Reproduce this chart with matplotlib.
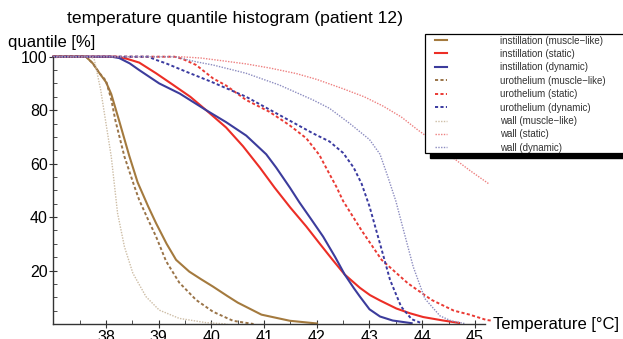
import matplotlib
matplotlib.use("Agg")
import matplotlib.pyplot as plt
from matplotlib.ticker import MultipleLocator
from matplotlib.patches import Rectangle

plt.rcParams['font.family'] = ['Liberation Sans', 'DejaVu Sans']

# ---- data (temperature in °C, quantile in %) ----
inst_muscle_T = [37.0, 37.62, 37.75, 37.87, 38.0, 38.1, 38.25, 38.44, 38.6, 38.8, 38.95, 39.15, 39.33, 39.58, 39.8, 40.03, 40.3, 40.5, 40.95, 41.49, 42.0]
inst_muscle_V = [100, 100, 97.5, 94, 90.5, 86, 76, 63, 53, 44, 37.7, 30, 24, 19.6, 16.8, 14, 10.5, 8, 3.5, 1.2, 0.2]

inst_static_T = [37.0, 38.2, 38.4, 38.63, 38.95, 39.27, 39.6, 39.9, 40.28, 40.6, 40.92, 41.2, 41.5, 41.8, 42.05, 42.3, 42.53, 42.82, 43.01, 43.2, 43.51, 43.77, 44.02, 44.4, 44.7]
inst_static_V = [100, 100, 99.2, 97.8, 93.8, 89.5, 85, 80, 73.5, 66.5, 58.5, 51, 43.5, 36.5, 30.2, 24, 18.5, 13.5, 10.8, 8.8, 5.8, 4, 2.6, 1.3, 0.4]

inst_dyn_T = [37.0, 38.1, 38.25, 38.45, 38.63, 39.01, 39.4, 39.9, 40.28, 40.66, 41.04, 41.23, 41.49, 41.67, 41.9, 42.12, 42.35, 42.53, 42.7, 42.82, 43.0, 43.2, 43.44, 43.8]
inst_dyn_V = [100, 100, 99.5, 97.5, 95, 90, 86.2, 80, 75.5, 70.5, 63.5, 58.5, 51, 45.5, 39, 32.7, 25, 18.5, 13.5, 10.2, 5.5, 2.8, 1.3, 0.3]

uro_muscle_T = [37.0, 37.62, 37.75, 37.87, 38.0, 38.1, 38.18, 38.35, 38.54, 38.63, 38.8, 38.95, 39.14, 39.39, 39.71, 40.03, 40.41, 40.8]
uro_muscle_V = [100, 100, 97.5, 94, 91, 84, 76, 62.6, 51.4, 46.4, 39, 32.7, 23.5, 15.5, 9, 4.6, 1.2, 0]

uro_static_T = [37.0, 39.3, 39.45, 39.71, 40.03, 40.28, 40.66, 41.1, 41.48, 41.8, 42.05, 42.2, 42.37, 42.5, 42.85, 43.23, 43.73, 44.18, 44.6, 44.9, 45.22, 45.3]
uro_static_V = [100, 100, 99.2, 96.9, 91.9, 89.2, 83.8, 79.4, 74.4, 69.5, 63.2, 57.6, 51.4, 46, 35, 24, 15.2, 9, 5, 3.5, 1.5, 1.3]

uro_dyn_T = [37.0, 38.8, 38.95, 39.14, 39.52, 40.0, 40.66, 41.29, 41.93, 42.24, 42.5, 42.7, 42.85, 43.0, 43.2, 43.39, 43.6, 43.8, 44.0]
uro_dyn_V = [100, 100, 98.8, 97.5, 94.4, 90.6, 85, 78.2, 71.3, 68.3, 64, 58.5, 52.5, 44, 30, 16.5, 6.5, 1.8, 0.2]

wall_muscle_T = [37.0, 37.72, 37.78, 37.9, 38.0, 38.1, 38.16, 38.22, 38.35, 38.51, 38.76, 39.01, 39.39, 39.9, 40.3]
wall_muscle_V = [100, 100, 98.8, 87.5, 75, 62.6, 52, 41.4, 28.9, 19, 10.2, 5.2, 2.1, 0.5, 0]

wall_static_T = [37.0, 39.4, 39.8, 40.2, 40.66, 41.1, 41.61, 42.0, 42.5, 42.9, 43.26, 43.6, 43.89, 44.2, 44.53, 44.9, 45.26]
wall_static_V = [100, 100, 99.5, 98.5, 97.3, 95.8, 93.7, 91.5, 88, 85, 81.5, 77.5, 73, 68.5, 63, 57.5, 52.5]

wall_dyn_T = [37.0, 39.3, 39.71, 40.03, 40.66, 41.29, 41.93, 42.24, 42.62, 43.0, 43.2, 43.35, 43.5, 43.62, 43.83, 44.05, 44.34, 44.55, 44.8]
wall_dyn_V = [100, 100, 98.1, 96.9, 93.8, 89.4, 83.8, 80.7, 75.1, 69, 63.5, 55, 46, 37, 21.4, 9.5, 3, 1.2, 0.2]

labels = ["instillation (muscle\u2212like)", "instillation (static)", "instillation (dynamic)",
          "urothelium (muscle\u2212like)", "urothelium (static)", "urothelium (dynamic)",
          "wall (muscle\u2212like)", "wall (static)", "wall (dynamic)"]

x_ticks = [38, 39, 40, 41, 42, 43, 44, 45]
y_ticks = [20, 40, 60, 80, 100]

# ---- figure ----
W, H = 623, 339
fig = plt.figure(figsize=(W / 100, H / 100), dpi=100)
left_px, right_px, top_px, bot_px = 53.3, 490.7, 56.7, 324.0
ax = fig.add_axes([left_px / W, 1 - bot_px / H, (right_px - left_px) / W, (bot_px - top_px) / H])

series = [
    (inst_muscle_T, inst_muscle_V, dict(color='#A47A3E', lw=1.5, ls='-')),
    (inst_static_T, inst_static_V, dict(color='#EC2E26', lw=1.5, ls='-')),
    (inst_dyn_T, inst_dyn_V, dict(color='#3C3C9C', lw=1.5, ls='-')),
    (uro_muscle_T, uro_muscle_V, dict(color='#9A7448', lw=1.4, ls=(0, (1.6, 1.2)))),
    (uro_static_T, uro_static_V, dict(color='#EA3A34', lw=1.4, ls=(0, (1.6, 1.2)))),
    (uro_dyn_T, uro_dyn_V, dict(color='#3A3AA0', lw=1.4, ls=(0, (1.6, 1.2)))),
    (wall_muscle_T, wall_muscle_V, dict(color='#CDBDA5', lw=1.0, ls=(0, (1, 1)))),
    (wall_static_T, wall_static_V, dict(color='#EE8080', lw=1.0, ls=(0, (1, 1)))),
    (wall_dyn_T, wall_dyn_V, dict(color='#8C8CC0', lw=1.0, ls=(0, (1, 1)))),
]
handles = []
for (T, V, st), lab in zip(series, labels):
    h, = ax.plot(T, V, label=lab, clip_on=False, **st)
    handles.append(h)

ax.set_xlim(37.0, 45.3)
ax.set_ylim(0, 100)
for s in ['top', 'right']:
    ax.spines[s].set_visible(False)
ax.spines['bottom'].set_bounds(37.0, 45.2)
ax.spines['left'].set_bounds(0, 100)
for s in ['bottom', 'left']:
    ax.spines[s].set_color('#333333')
    ax.spines[s].set_linewidth(1.0)

ax.set_xticks(x_ticks)
ax.set_yticks(y_ticks)
ax.xaxis.set_minor_locator(MultipleLocator(0.5))
ax.yaxis.set_minor_locator(MultipleLocator(5))
ax.tick_params(axis='both', which='major', direction='inout', length=6, width=0.8,
               color='#333333', labelsize=11.5, pad=1)
ax.tick_params(axis='both', which='minor', direction='in', length=3, width=0.6, color='#333333')

fig.text(235 / W, 1 - 18 / H, "temperature quantile histogram (patient 12)",
         ha='center', va='center', fontsize=12.6)
fig.text(8 / W, 1 - 42 / H, "quantile [%]", ha='left', va='center', fontsize=12)
fig.text(493 / W, 1 - 324 / H, "Temperature [°C]", ha='left', va='center', fontsize=12)

# legend box with black drop shadow (figure pixel coordinates)
box_l, box_t, box_r, box_b = 425, 34.3, 640, 153.3
shadow = Rectangle((box_l + 5, H - box_b - 5), box_r - box_l, box_b - box_t,
                   transform=None, facecolor='black', edgecolor='black', zorder=3)
frame = Rectangle((box_l, H - box_b), box_r - box_l, box_b - box_t,
                  transform=None, facecolor='white', edgecolor='black', lw=0.9, zorder=3.5)
fig.add_artist(shadow)
fig.add_artist(frame)

leg = fig.legend(handles=handles, loc='upper left',
                 bbox_to_anchor=(435 / W, 1 - 35.5 / H), bbox_transform=fig.transFigure,
                 prop={'size': 7}, frameon=False,
                 handlelength=1.23, handletextpad=5.45, labelspacing=0.35,
                 borderpad=0, borderaxespad=0)
leg.set_zorder(5)
for t in leg.get_texts():
    t.set_color('#333333')

fig.savefig("out.png", dpi=100)
